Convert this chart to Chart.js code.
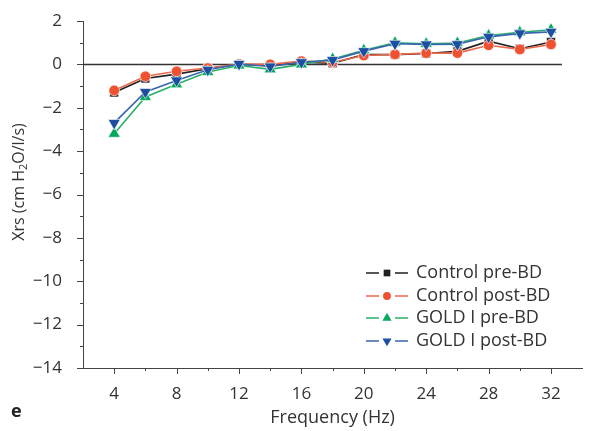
<!DOCTYPE html>
<html>
<head>
<meta charset="utf-8">
<script src="https://cdn.jsdelivr.net/npm/chart.js@4"></script>
<style>
  html, body { margin: 0; padding: 0; background: #fff; }
  #wrap { width: 590px; height: 431px; position: relative; }
</style>
</head>
<body>
<div id="wrap"><canvas id="xrs-chart"></canvas></div>
<script>
// frequencies (Hz)
const freqs = [4, 6, 8, 10, 12, 14, 16, 18, 20, 22, 24, 26, 28, 30, 32];

// Xrs values
const controlPre  = [-1.3, -0.65, -0.45, -0.2, 0.0, -0.05, 0.1, 0.05, 0.45, 0.45, 0.5, 0.6, 1.07, 0.72, 1.03];
const controlPost = [-1.2, -0.55, -0.32, -0.17, 0.02, 0.0, 0.15, 0.1, 0.41, 0.46, 0.52, 0.52, 0.88, 0.69, 0.92];
const goldPre     = [-3.2, -1.5, -0.92, -0.35, -0.05, -0.23, 0.0, 0.25, 0.65, 1.0, 0.95, 0.98, 1.33, 1.48, 1.6];
const goldPost    = [-2.7, -1.27, -0.74, -0.25, 0.02, -0.1, 0.1, 0.2, 0.61, 0.95, 0.92, 0.93, 1.27, 1.43, 1.5];

const seriesNames = ['Control pre-BD', 'Control post-BD', 'GOLD I pre-BD', 'GOLD I post-BD'];

const xTicks = [4, 8, 12, 16, 20, 24, 28, 32];
const xMinorTicks = [6, 10, 14, 18, 22, 26, 30];
const yTicks = [-14, -12, -10, -8, -6, -4, -2, 0, 2];
const yMinorTicks = [-13, -11, -9, -7, -5, -3, -1, 1];
const zeroLineRange = [2, 32.7];

const FONT = '"Open Sans", "Noto Sans", sans-serif';
const TXT = '#333';

function toPoints(vals) {
  return freqs.map((f, i) => ({ x: f, y: vals[i] }));
}

function minus(v) {
  return String(v).replace('-', '\u2212');
}

const styles = [
  { line: '#231f20', fill: '#231f20', style: 'rect', r: 6.3, rot: 0, order: 4 },
  { line: '#ea6a4c', fill: '#ef5233', style: 'circle', r: 5.3, rot: 0, order: 3 },
  { line: '#2bb06a', fill: '#00a859', style: 'triangle', r: 7, rot: 0, order: 2 },
  { line: '#3a64b0', fill: '#1c4fa1', style: 'triangle', r: 7, rot: 180, order: 1 }
];

const allSeries = [controlPre, controlPost, goldPre, goldPost];

const datasets = allSeries.map((vals, i) => ({
  label: seriesNames[i],
  data: toPoints(vals),
  borderColor: styles[i].line,
  backgroundColor: styles[i].fill,
  borderWidth: 1.6,
  pointStyle: styles[i].style,
  pointRadius: styles[i].r,
  pointRotation: styles[i].rot,
  pointBackgroundColor: styles[i].fill,
  pointBorderColor: 'rgba(255,255,255,0.8)',
  pointBorderWidth: 0.8,
  order: styles[i].order,
  tension: 0
}));

// axis ticks, zero line, titles, legend
const decorPlugin = {
  id: 'decor',
  beforeDatasetsDraw(chart) {
    const ctx = chart.ctx;
    const x = chart.scales.x, y = chart.scales.y;
    const py = y.getPixelForValue(0);
    ctx.save();
    ctx.strokeStyle = '#333';
    ctx.lineWidth = 1.5;
    ctx.beginPath();
    ctx.moveTo(x.getPixelForValue(zeroLineRange[0]), py);
    ctx.lineTo(x.getPixelForValue(zeroLineRange[1]), py);
    ctx.stroke();
    ctx.restore();
  },
  afterDraw(chart) {
    const ctx = chart.ctx;
    const x = chart.scales.x, y = chart.scales.y;
    const area = chart.chartArea;
    ctx.save();
    ctx.strokeStyle = '#444';
    ctx.lineWidth = 1;
    ctx.beginPath();
    yTicks.forEach(v => {
      const p = Math.round(y.getPixelForValue(v)) + 0.5;
      ctx.moveTo(area.left - 6, p); ctx.lineTo(area.left, p);
    });
    yMinorTicks.forEach(v => {
      const p = Math.round(y.getPixelForValue(v)) + 0.5;
      ctx.moveTo(area.left - 3, p); ctx.lineTo(area.left, p);
    });
    xTicks.forEach(v => {
      const p = Math.round(x.getPixelForValue(v)) + 0.5;
      ctx.moveTo(p, area.bottom); ctx.lineTo(p, area.bottom + 6);
    });
    xMinorTicks.forEach(v => {
      const p = Math.round(x.getPixelForValue(v)) + 0.5;
      ctx.moveTo(p, area.bottom); ctx.lineTo(p, area.bottom + 3);
    });
    ctx.stroke();

    // axis titles
    ctx.fillStyle = TXT;
    ctx.font = '18px ' + FONT;
    ctx.textAlign = 'center';
    ctx.textBaseline = 'middle';
    ctx.fillText('Frequency (Hz)', (area.left + area.right) / 2, 418);

    ctx.save();
    ctx.translate(19, 182);
    ctx.rotate(-Math.PI / 2);
    const partA = 'Xrs (cm H', partB = '2', partC = 'O/l/s)';
    ctx.font = '16px ' + FONT;
    const wA = ctx.measureText(partA).width, wC = ctx.measureText(partC).width;
    ctx.font = '11px ' + FONT;
    const wB = ctx.measureText(partB).width;
    const total = wA + wB + wC;
    let cx = -total / 2;
    ctx.textAlign = 'left';
    ctx.font = '16px ' + FONT;
    ctx.fillText(partA, cx, 0); cx += wA;
    ctx.font = '11px ' + FONT;
    ctx.fillText(partB, cx, 5); cx += wB;
    ctx.font = '16px ' + FONT;
    ctx.fillText(partC, cx, 0);
    ctx.restore();

    // panel letter
    ctx.font = 'bold 18px ' + FONT;
    ctx.textAlign = 'left';
    ctx.fillStyle = '#222';
    ctx.fillText('e', 11, 412);

    // legend
    const rows = [273, 296, 318, 341];
    chart.data.datasets.forEach((ds, i) => {
      const ry = rows[i];
      ctx.strokeStyle = ds.borderColor;
      ctx.lineWidth = 1.6;
      ctx.beginPath();
      ctx.moveTo(366, ry); ctx.lineTo(379, ry);
      ctx.moveTo(395, ry); ctx.lineTo(408, ry);
      ctx.stroke();
      ctx.fillStyle = ds.pointBackgroundColor;
      ctx.strokeStyle = ds.pointBackgroundColor;
      Chart.helpers.drawPoint(ctx, {
        pointStyle: ds.pointStyle,
        radius: ds.pointRadius * 0.75,
        rotation: ds.pointRotation,
        borderWidth: 0
      }, 387, ry);
      ctx.fillStyle = TXT;
      ctx.font = '18px ' + FONT;
      ctx.textAlign = 'left';
      ctx.textBaseline = 'middle';
      ctx.fillText(ds.label, 416, ry);
    });
    ctx.restore();
  }
};

new Chart(document.getElementById('xrs-chart'), {
  type: 'line',
  data: { datasets: datasets },
  plugins: [decorPlugin],
  options: {
    responsive: true,
    maintainAspectRatio: false,
    animation: false,
    layout: { padding: { top: 21, right: 1, left: 0, bottom: 0 } },
    plugins: { legend: { display: false }, tooltip: { enabled: false } },
    scales: {
      x: {
        type: 'linear',
        min: 2,
        max: 34,
        afterBuildTicks: s => { s.ticks = xTicks.map(v => ({ value: v })); },
        afterFit: s => { s.height = 63; s.paddingLeft = 0; s.paddingRight = 0; },
        grid: { display: false },
        border: { display: true, color: '#444', width: 1 },
        ticks: { color: TXT, font: { family: FONT, size: 17 }, padding: 8, maxRotation: 0 }
      },
      y: {
        type: 'linear',
        min: -14,
        max: 2,
        afterBuildTicks: s => { s.ticks = yTicks.map(v => ({ value: v })); },
        afterFit: s => { s.width = 83; s.paddingTop = 0; s.paddingBottom = 0; },
        grid: { display: false },
        border: { display: true, color: '#444', width: 1 },
        ticks: { color: TXT, font: { family: FONT, size: 17 }, padding: 13, callback: v => minus(v) }
      }
    }
  }
});
</script>
</body>
</html>
